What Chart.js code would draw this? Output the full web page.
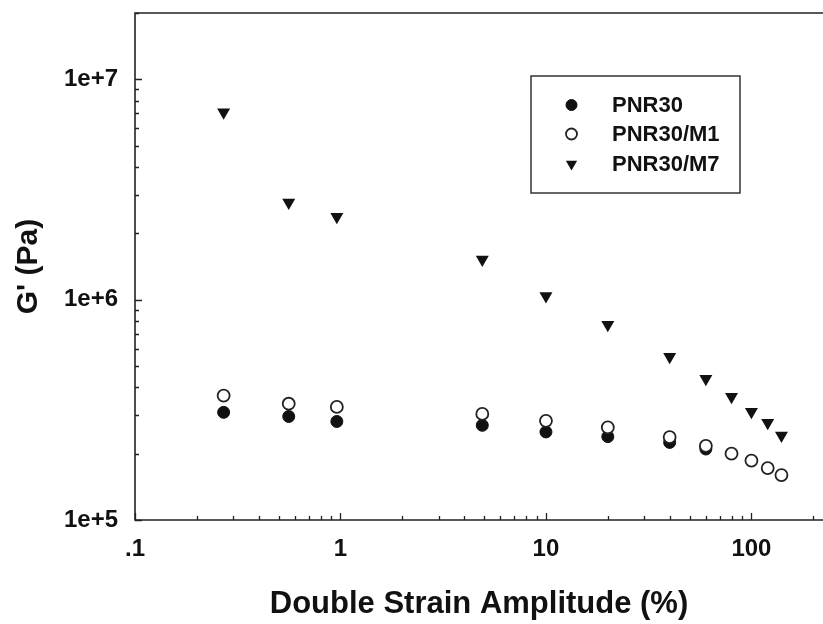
<!DOCTYPE html>
<html>
<head>
<meta charset="utf-8">
<script src="https://cdn.jsdelivr.net/npm/chart.js@4.4.0/dist/chart.umd.min.js"></script>
<style>
  html, body { margin: 0; padding: 0; background: #fff; }
</style>
</head>
<body>
<canvas id="myChart" width="823" height="624"></canvas>
<script>
// double strain amplitude (%)
const strain = [0.27, 0.56, 0.96, 4.9, 10, 20, 40, 60, 80, 100, 120, 140];
// G' (Pa)
const pnr30 = [3.08e5, 2.95e5, 2.80e5, 2.69e5, 2.51e5, 2.39e5, 2.25e5, 2.10e5];
const pnr30m1 = [3.67e5, 3.37e5, 3.26e5, 3.03e5, 2.82e5, 2.63e5, 2.38e5, 2.17e5, 2.00e5, 1.86e5, 1.72e5, 1.60e5];
const pnr30m7 = [7.08e6, 2.76e6, 2.38e6, 1.52e6, 1.04e6, 7.7e5, 5.5e5, 4.38e5, 3.63e5, 3.10e5, 2.76e5, 2.42e5];
const seriesNames = ["PNR30", "PNR30/M1", "PNR30/M7"];

const xTicks = [0.1, 1, 10, 100];
const xTickLabels = [".1", "1", "10", "100"];
const yTicks = [1e5, 1e6, 1e7];
const yTickLabels = ["1e+5", "1e+6", "1e+7"];

const FONT = "'Liberation Sans', Arial, Helvetica, sans-serif";
const INK = "#111";

function pts(vals) {
  return vals.map((v, i) => ({ x: strain[i], y: v }));
}

function noPad(s) {
  s.paddingTop = 0;
  s.paddingBottom = 0;
  s.paddingLeft = 0;
  s.paddingRight = 0;
}

// frame + inward ticks (major and minor), like the original plot
const framePlugin = {
  id: "frame",
  afterDraw(chart) {
    const ctx = chart.ctx;
    const a = chart.chartArea;
    const xs = chart.scales.x, ys = chart.scales.y;
    ctx.save();
    ctx.strokeStyle = "#222";
    ctx.lineWidth = 1.6;
    ctx.beginPath();
    ctx.moveTo(a.right, a.top);
    ctx.lineTo(a.left, a.top);
    ctx.lineTo(a.left, a.bottom);
    ctx.lineTo(a.right, a.bottom);
    ctx.stroke();

    ctx.lineWidth = 1.3;
    ctx.beginPath();
    for (let d = 0.1; d <= 1000; d *= 10) {
      for (let k = 1; k <= 9; k++) {
        const v = d * k;
        if (v < xs.min || v > xs.max) continue;
        const px = Math.round(xs.getPixelForValue(v)) + 0.5;
        const len = k === 1 ? 7 : 4;
        ctx.moveTo(px, a.bottom);
        ctx.lineTo(px, a.bottom - len);
      }
    }
    for (let d = 1e5; d <= 1e8; d *= 10) {
      for (let k = 1; k <= 9; k++) {
        const v = d * k;
        if (v < ys.min || v > ys.max) continue;
        const py = Math.round(ys.getPixelForValue(v)) + 0.5;
        const len = k === 1 ? 7 : 4;
        ctx.moveTo(a.left, py);
        ctx.lineTo(a.left + len, py);
      }
    }
    ctx.stroke();
    ctx.restore();
  }
};

// boxed legend inside the plot
const legendBox = {
  id: "legendBox",
  afterDraw(chart) {
    const ctx = chart.ctx;
    ctx.save();
    ctx.strokeStyle = "#333";
    ctx.lineWidth = 1.5;
    ctx.strokeRect(531, 76, 209, 117);
    const rows = [105, 134, 164];
    ctx.font = "bold 22px " + FONT;
    ctx.textBaseline = "middle";
    ctx.fillStyle = INK;
    chart.data.datasets.forEach((ds, i) => {
      const y = rows[i];
      const x = 571.5;
      ctx.beginPath();
      if (ds.pointStyle === "triangle") {
        const r = 6.5;
        ctx.moveTo(x - r * 0.866, y - r * 0.5);
        ctx.lineTo(x + r * 0.866, y - r * 0.5);
        ctx.lineTo(x, y + r);
        ctx.closePath();
        ctx.fillStyle = ds.backgroundColor;
        ctx.fill();
      } else {
        ctx.arc(x, y, 5.5, 0, Math.PI * 2);
        ctx.fillStyle = ds.backgroundColor;
        ctx.fill();
        ctx.lineWidth = ds.borderWidth;
        ctx.strokeStyle = ds.borderColor;
        ctx.stroke();
      }
      ctx.fillStyle = INK;
      ctx.fillText(ds.label, 612, y + 1);
    });
    ctx.restore();
  }
};

var ctx = document.getElementById("myChart");
var myChart = new Chart(ctx, {
  type: "scatter",
  data: {
    datasets: [
      {
        label: seriesNames[0],
        data: pts(pnr30),
        pointStyle: "circle",
        pointRadius: 6,
        backgroundColor: "#111",
        borderColor: "#111",
        borderWidth: 1,
        order: 2,
      },
      {
        label: seriesNames[1],
        data: pts(pnr30m1),
        pointStyle: "circle",
        pointRadius: 6,
        backgroundColor: "#fff",
        borderColor: "#222",
        borderWidth: 1.8,
        order: 1,
      },
      {
        label: seriesNames[2],
        data: pts(pnr30m7),
        pointStyle: "triangle",
        pointRadius: 7.5,
        rotation: 180,
        backgroundColor: "#111",
        borderColor: "#111",
        borderWidth: 0,
        order: 0,
      },
    ],
  },
  options: {
    responsive: false,
    animation: false,
    layout: { autoPadding: false, padding: { top: 13, right: 0, bottom: 0, left: 0 } },
    plugins: {
      legend: { display: false },
      tooltip: { enabled: false },
    },
    scales: {
      x: {
        type: "logarithmic",
        position: "bottom",
        min: 0.1,
        max: 223,
        afterFit: (s) => { s.height = 104; noPad(s); },
        afterBuildTicks: (s) => { s.ticks = xTicks.map((v) => ({ value: v })); },
        grid: { display: false, drawTicks: false },
        border: { display: false },
        ticks: {
          autoSkip: false,
          maxRotation: 0,
          padding: 15,
          color: INK,
          font: { family: FONT, size: 24, weight: "bold" },
          callback: (v) => xTickLabels[xTicks.indexOf(v)],
        },
        title: {
          display: true,
          text: "Double Strain Amplitude (%)",
          color: INK,
          font: { family: FONT, size: 31, weight: "bold", lineHeight: 1.2 },
          padding: { top: 0, bottom: 1 },
        },
      },
      y: {
        type: "logarithmic",
        position: "left",
        min: 1e5,
        max: 2e7,
        afterFit: (s) => { s.width = 135; noPad(s); },
        afterBuildTicks: (s) => { s.ticks = yTicks.map((v) => ({ value: v })); },
        grid: { display: false, drawTicks: false },
        border: { display: false },
        ticks: {
          autoSkip: false,
          padding: 17,
          color: INK,
          font: { family: FONT, size: 24, weight: "bold" },
          callback: (v) => yTickLabels[yTicks.indexOf(v)],
        },
        title: {
          display: true,
          text: "G' (Pa)",
          color: INK,
          font: { family: FONT, size: 30, weight: "bold", lineHeight: 1.2 },
          padding: { top: 11, bottom: 0 },
        },
      },
    },
  },
  plugins: [framePlugin, legendBox],
});
</script>
</body>
</html>
